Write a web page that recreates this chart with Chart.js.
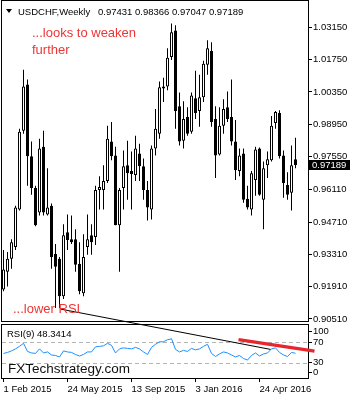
<!DOCTYPE html>
<html><head><meta charset="utf-8">
<script src="https://cdn.jsdelivr.net/npm/chart.js@4.4.1/dist/chart.umd.min.js"></script>
<style>html,body{margin:0;padding:0;background:#fff;}canvas{display:block;}</style>
</head><body>
<canvas id="c" width="350" height="400"></canvas>
<script>
// ---- data ----
const symbol = 'USDCHF,Weekly';
const open  = [0.9179,0.9256,0.9312,0.9363,0.9525,0.9867,1.0067,0.9756,0.9619,0.9512,0.9798,0.9504,0.9542,0.9333,0.9312,0.9149,0.9427,0.9397,0.9397,0.9290,0.9162,0.9363,0.9414,0.9406,0.9610,0.9610,0.9649,0.9820,0.9760,0.9457,0.9619,0.9717,0.9692,0.9675,0.9768,0.9713,0.9610,0.9525,0.9790,0.9854,1.0050,1.0059,1.0187,1.0302,0.9973,0.9824,0.9926,0.9862,1.0008,0.9952,1.0012,1.0153,1.0213,0.9918,0.9764,0.9888,0.9969,0.9926,0.9820,0.9692,0.9768,0.9572,0.9525,0.9653,0.9790,0.9568,0.9717,0.9739,0.9901,0.9944,0.9760,0.9632,0.9598,0.97431];
const high  = [0.9350,0.9341,0.9397,0.9542,0.9875,1.0131,1.0089,0.9820,0.9628,0.9832,0.9867,0.9704,0.9551,0.9376,0.9320,0.9461,0.9504,0.9499,0.9440,0.9384,0.9418,0.9504,0.9461,0.9628,0.9670,0.9717,0.9888,0.9905,0.9798,0.9619,0.9781,0.9824,0.9777,0.9845,0.9811,0.9747,0.9649,0.9803,0.9961,1.0080,1.0097,1.0225,1.0332,1.0324,1.0033,0.9995,0.9969,1.0033,1.0127,1.0110,1.0170,1.0259,1.0251,0.9973,0.9969,1.0003,1.0037,1.0089,0.9914,0.9790,0.9790,0.9628,0.9692,0.9798,0.9794,0.9734,0.9777,0.9931,0.9952,0.9956,0.9781,0.9687,0.9803,0.98366];
const low   = [0.9171,0.9192,0.9269,0.9350,0.9521,0.9854,0.9628,0.9589,0.9453,0.9499,0.9499,0.9499,0.9269,0.9098,0.9098,0.9137,0.9350,0.9376,0.9256,0.9158,0.9149,0.9329,0.9329,0.9371,0.9525,0.9525,0.9640,0.9739,0.9457,0.9256,0.9525,0.9568,0.9525,0.9649,0.9649,0.9568,0.9478,0.9482,0.9760,0.9832,0.9991,1.0042,1.0174,0.9875,0.9803,0.9790,0.9845,0.9854,0.9918,0.9884,0.9991,1.0110,0.9884,0.9662,0.9760,0.9854,0.9905,0.9803,0.9653,0.9670,0.9555,0.9525,0.9499,0.9585,0.9585,0.9440,0.9662,0.9734,0.9875,0.9747,0.9576,0.9568,0.9521,0.97047];
const close = [0.9265,0.9312,0.9384,0.9534,0.9862,1.0059,0.9756,0.9619,0.9457,0.9790,0.9512,0.9534,0.9320,0.9277,0.9149,0.9414,0.9393,0.9384,0.9286,0.9171,0.9320,0.9397,0.9384,0.9610,0.9623,0.9649,0.9832,0.9756,0.9457,0.9610,0.9713,0.9683,0.9679,0.9790,0.9713,0.9610,0.9534,0.9790,0.9875,1.0055,1.0059,1.0183,1.0294,0.9952,0.9820,0.9918,0.9854,1.0020,0.9944,1.0012,1.0157,1.0225,0.9905,0.9760,0.9888,0.9961,0.9918,0.9820,0.9696,0.9760,0.9568,0.9534,0.9683,0.9786,0.9589,0.9704,0.9743,0.9888,0.9948,0.9756,0.9640,0.9589,0.9717,0.97189];
const rsi   = [48,50,53,57,62,68,52,49,48,57,49,51,45,44,41,53,51,50,46,43,46,51,51,61,62,63,68,64,49,57,59,58,57,60,57,51,46,60,66,71,71,75,77,56,51,54,52,58,55,57,62,66,48,42,47,51,49,45,41,44,38,35,44,49,43,47,49,57,59,50,45,42,50,48.3414];
const priceTicks = [1.0315,1.0175,1.0035,0.9895,0.9755,0.9611,0.9471,0.9331,0.9191,0.9051];
const rsiTickValues = [91,70,30,11];
const rsiTickLabels = ['100','70','30','0'];
const rsiLevels = [70,30];
const dateTickIndex = [0,16,32,48,64];
const dateTickLabels = ['1 Feb 2015','24 May 2015','13 Sep 2015','3 Jan 2016','24 Apr 2016'];
const blackTrend = [[14.25,135.5],[66.75,56]];
const redTrend = [[58.75,75.3],[77.75,52.6]];
const noteTop = ['...looks to weaken','further'];
const noteBottom = '...lower RSI';
const watermark = 'FXTechstrategy.com';

// ---- chart ----
const FONT = 'Liberation Sans, Arial, sans-serif';
Chart.defaults.font.family = FONT;
const last = close.length - 1;
const bodyData = close.map((c,i)=>({x:i, y:[Math.min(open[i],c), Math.max(open[i],c)]}));
const wickData = close.map((c,i)=>({x:i, y:[low[i], high[i]]}));
const bodyColors = close.map((c,i)=> c>=open[i] ? '#ffffff' : '#000000');

const deco = {
  id:'deco',
  beforeDraw(ch){const c=ch.ctx;c.save();c.fillStyle='#fff';c.fillRect(0,0,ch.width,ch.height);c.restore();},
  beforeDatasetsDraw(ch){
    const c=ch.ctx, a=ch.chartArea, y=ch.scales.y, r=ch.scales.rsi;
    c.save();
    c.fillStyle='#fff';
    c.fillRect(a.left-1, y.bottom-1.5, ch.width, 3);
    c.strokeStyle='#000'; c.lineWidth=1;
    c.strokeRect(1.5,0.5,307,321);
    c.strokeRect(1.5,324.5,307,54);
    c.strokeStyle='#b4b4b4'; c.setLineDash([4,3]);
    rsiLevels.forEach(v=>{const py=Math.round(r.getPixelForValue(v))+0.5;c.beginPath();c.moveTo(a.left,py);c.lineTo(a.right,py);c.stroke();});
    c.restore();
  },
  afterDatasetsDraw(ch){
    const c=ch.ctx;
    c.save();
    c.fillStyle='#000';
    c.beginPath();c.moveTo(6,9);c.lineTo(12,9);c.lineTo(9,13);c.closePath();c.fill();
    c.font='9.5px '+FONT; c.textBaseline='alphabetic';
    c.fillText(symbol,18,14.5);
    c.fillText([open[last],high[last],low[last],close[last]].map(v=>v.toFixed(5)).join(' '),98,14.5);
    c.fillStyle='#ee3535'; c.font='13px '+FONT;
    c.fillText(noteTop[0],32,37);
    c.fillText(noteTop[1],32,54);
    c.fillText(noteBottom,13,313);
    c.fillStyle='#000'; c.font='9.5px '+FONT;
    c.fillText('RSI(9) '+rsi[last].toFixed(4),7,336.5);
    c.fillStyle='#111'; c.font='13.5px '+FONT;
    c.fillText(watermark,8,373);
    c.restore();
  },
  afterDraw(ch){
    const c=ch.ctx, y=ch.scales.y;
    const py=y.getPixelForValue(close[last]);
    c.save();
    c.fillStyle='#000'; c.fillRect(308,Math.round(py)-5,42,10);
    c.fillStyle='#fff'; c.font='9.5px '+FONT; c.textBaseline='middle';
    c.fillText(close[last].toFixed(5),312,Math.round(py)+0.5);
    c.restore();
  }
};

const tickFont={size:9.5,family:FONT};
new Chart(document.getElementById('c'),{
  type:'bar',
  data:{datasets:[
    {type:'line',data:redTrend.map(p=>({x:p[0],y:p[1]})),yAxisID:'rsi',borderColor:'#e8262e',borderWidth:3.5,pointRadius:0,clip:false,order:0},
    {type:'line',data:blackTrend.map(p=>({x:p[0],y:p[1]})),yAxisID:'rsi',borderColor:'#000',borderWidth:1,pointRadius:0,clip:false,order:1},
    {type:'line',data:rsi.map((v,i)=>({x:i,y:v})),yAxisID:'rsi',borderColor:'#1e90ff',borderWidth:1,pointRadius:0,tension:0,order:2},
    {type:'bar',data:bodyData,yAxisID:'y',backgroundColor:bodyColors,borderColor:'#000',borderWidth:1,borderSkipped:false,barThickness:3,grouped:false,minBarLength:1,inflateAmount:0,order:3},
    {type:'bar',data:wickData,yAxisID:'y',backgroundColor:'#000',borderWidth:0,barThickness:1,grouped:false,inflateAmount:0,order:4}
  ]},
  options:{
    responsive:false,animation:false,devicePixelRatio:1,
    layout:{padding:{left:2,top:1,right:0,bottom:0}},
    plugins:{legend:{display:false},tooltip:{enabled:false}},
    scales:{
      x:{type:'linear',position:'bottom',min:-0.375,max:76.125,offset:false,
        grid:{offset:false,drawOnChartArea:false,drawTicks:true,tickLength:4,color:'#000'},
        border:{display:false},
        afterBuildTicks:s=>{s.ticks=dateTickIndex.map(v=>({value:v}));},
        afterFit:s=>{s.height=22;},
        ticks:{align:'start',maxRotation:0,autoSkip:false,padding:2,color:'#000',font:tickFont,
          callback:(v,i)=>dateTickLabels[i]}},
      y:{type:'linear',position:'right',stack:'pane',stackWeight:322,min:0.902977,max:1.040467,
        grid:{drawOnChartArea:false,tickLength:4,color:'#000'},border:{display:false},
        afterBuildTicks:s=>{s.ticks=priceTicks.map(v=>({value:v}));},
        afterFit:s=>{s.width=42;},
        ticks:{padding:1,autoSkip:false,color:'#000',font:tickFont,callback:v=>Number(v).toFixed(5)}},
      rsi:{type:'linear',position:'right',stack:'pane',stackWeight:55,min:-0.4,max:106.4,
        grid:{drawOnChartArea:false,tickLength:4,color:'#000'},border:{display:false},
        afterBuildTicks:s=>{s.ticks=rsiTickValues.map(v=>({value:v}));},
        afterFit:s=>{s.width=42;},
        ticks:{padding:1,autoSkip:false,color:'#000',font:tickFont,callback:(v,i)=>rsiTickLabels[i]}}
    }
  },
  plugins:[deco]
});
</script>
</body></html>
